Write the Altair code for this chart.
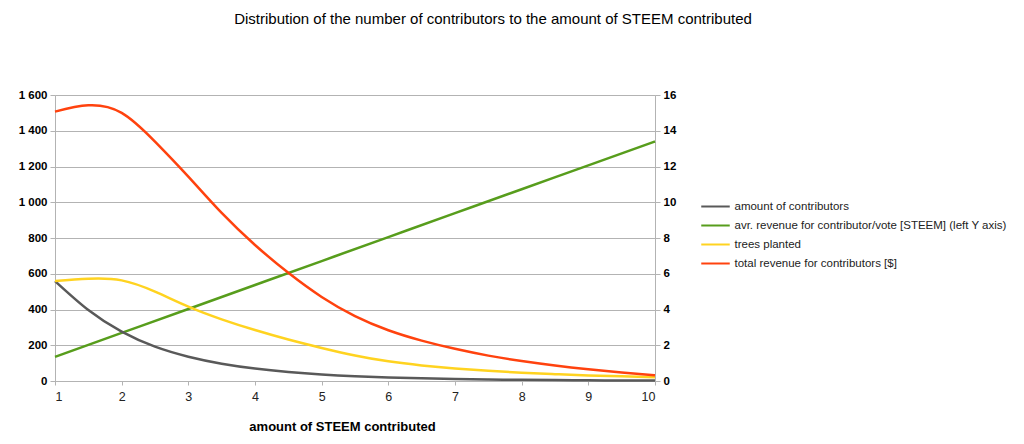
import altair as alt
import pandas as pd

# x positions (amount of STEEM contributed)
x_curve = [1, 1.5, 2, 2.5, 3, 3.5, 4, 4.5, 5, 5.5, 6, 6.5, 7, 7.5, 8, 8.5, 9, 9.5, 10]
x_line = [1, 2, 3, 4, 5, 6, 7, 8, 9, 10]

# right-axis series
contributors = [5.59, 3.97, 2.76, 1.92, 1.36, 0.97, 0.70, 0.51, 0.37, 0.27, 0.20, 0.15, 0.11, 0.085, 0.065, 0.05, 0.04, 0.03, 0.025]
trees = [5.59, 5.72, 5.63, 5.00, 4.16, 3.45, 2.85, 2.32, 1.85, 1.43, 1.10, 0.87, 0.70, 0.57, 0.46, 0.38, 0.31, 0.26, 0.21]
revenue = [15.07, 15.42, 15.00, 13.39, 11.43, 9.40, 7.61, 6.05, 4.70, 3.63, 2.84, 2.26, 1.80, 1.42, 1.12, 0.87, 0.66, 0.48, 0.32]

# left-axis series
avr_revenue = [135, 269, 403, 537, 671, 805, 939, 1073, 1206, 1340]

series_names = [
    "amount of contributors",
    "avr. revenue for contributor/vote [STEEM] (left Y axis)",
    "trees planted",
    "total revenue for contributors [$]",
]
series_colors = ["#595959", "#579d1c", "#ffd320", "#ff420e"]

left_ticks = [0, 200, 400, 600, 800, 1000, 1200, 1400, 1600]
right_ticks = [0, 2, 4, 6, 8, 10, 12, 14, 16]

rows = []
for xv, v in zip(x_curve, contributors):
    rows.append({"x": xv, "value": v, "series": series_names[0], "axis": "right"})
for xv, v in zip(x_line, avr_revenue):
    rows.append({"x": xv, "value": v, "series": series_names[1], "axis": "left"})
for xv, v in zip(x_curve, trees):
    rows.append({"x": xv, "value": v, "series": series_names[2], "axis": "right"})
for xv, v in zip(x_curve, revenue):
    rows.append({"x": xv, "value": v, "series": series_names[3], "axis": "right"})
df = pd.DataFrame(rows)

FONT = "Liberation Sans"
GRAY = "#b3b3b3"

color = alt.Color(
    "series:N",
    scale=alt.Scale(domain=series_names, range=series_colors),
    legend=alt.Legend(
        title=None,
        orient="none",
        legendX=650,
        legendY=101,
        symbolType="M-1.5,0H1.5",
        symbolSize=361,
        symbolStrokeWidth=2,
        labelFont=FONT,
        labelFontSize=11.5,
        labelColor="#222222",
        labelOffset=8.5,
        rowPadding=3,
        padding=0,
        labelLimit=400,
    ),
)

x_enc = alt.X(
    "x:Q",
    scale=alt.Scale(domain=[1, 10], nice=False, zero=False),
    axis=alt.Axis(
        values=x_line,
        title="amount of STEEM  contributed",
        titleFont=FONT,
        titleFontSize=13,
        titleFontWeight="bold",
        titleColor="black",
        titleX=287,
        titleY=45,
        titleBaseline="middle",
        titleAnchor="start",
        titleAlign="center",
        labelFont=FONT,
        labelFontSize=12.5,
        labelColor="#222222",
        labelPadding=5,
        tickSize=4,
        tickColor=GRAY,
        domainColor=GRAY,
        grid=False,
    ),
)

left = (
    alt.Chart(df)
    .transform_filter(alt.datum.axis == "left")
    .mark_line(interpolate="natural", strokeWidth=2.5)
    .encode(
        x=x_enc,
        y=alt.Y(
            "value:Q",
            scale=alt.Scale(domain=[0, 1600], nice=False),
            axis=alt.Axis(
                values=left_ticks,
                title=None,
                orient="left",
                labelExpr="replace(format(datum.value, ','), ',', ' ')",
                labelFont=FONT,
                labelFontSize=11.5,
                labelFontWeight="bold",
                labelColor="black",
                labelPadding=3,
                tickSize=5,
                tickColor=GRAY,
                domainColor=GRAY,
                grid=True,
                gridColor=GRAY,
                gridWidth=1,
            ),
        ),
        color=color,
    )
)

right = (
    alt.Chart(df)
    .transform_filter(alt.datum.axis == "right")
    .mark_line(interpolate="natural", strokeWidth=2.5)
    .encode(
        x=x_enc,
        y=alt.Y(
            "value:Q",
            scale=alt.Scale(domain=[0, 16], nice=False),
            axis=alt.Axis(
                values=right_ticks,
                title=None,
                orient="right",
                labelFont=FONT,
                labelFontSize=11.5,
                labelFontWeight="bold",
                labelColor="black",
                labelPadding=3,
                tickSize=5,
                tickColor=GRAY,
                domainColor=GRAY,
                grid=False,
            ),
        ),
        color=color,
    )
)

chart = (
    alt.layer(left, right)
    .resolve_scale(y="independent")
    .properties(
        width=600,
        height=286,
        padding={"left": 47, "top": 87, "right": 361, "bottom": 56},
        autosize=alt.AutoSizeParams(type="none"),
        title=alt.TitleParams(
            text="Distribution of the number of contributors to the amount of STEEM contributed",
            font=FONT,
            fontSize=15,
            fontWeight="normal",
            color="black",
            anchor="middle",
            dx=138,
            offset=62,
        ),
    )
    .configure_view(strokeWidth=0)
    .configure(background="white")
)

chart.save("out.html", embed_options={"renderer": "svg", "actions": False})
